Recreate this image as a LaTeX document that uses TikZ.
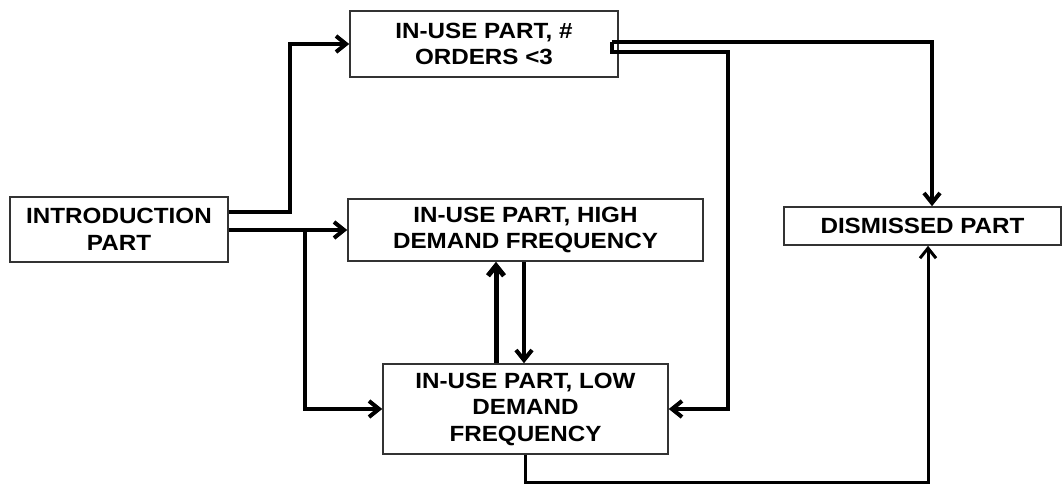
\documentclass[tikz,border=0pt]{standalone}
\usepackage{fontspec}
\setmainfont[FakeStretch=1.1]{Liberation Sans}
\usetikzlibrary{arrows.meta,calc}
\begin{document}
\begin{tikzpicture}[x=1pt,y=-1pt,
  box/.style={draw=black!80,line width=1.6pt,fill=white,inner sep=0pt,align=center,
    font=\fontsize{22}{26.5}\selectfont\bfseries},
  conn/.style={line width=4pt,-{Straight Barb[length=10pt,width=16pt]}},
]
\useasboundingbox (0,0) rectangle (1063,484);
\node[box,minimum width=268pt,minimum height=66pt] (top) at (484,44) {IN-USE PART, \#\\ORDERS <3};
\node[box,minimum width=218pt,minimum height=65pt] (intro) at (119,229.5) {INTRODUCTION\\PART};
\node[box,minimum width=355pt,minimum height=62pt] (high) at (525.5,230) {IN-USE PART, HIGH\\DEMAND FREQUENCY};
\node[box,minimum width=285pt,minimum height=90pt] (low) at (525.5,409) {IN-USE PART, LOW\\DEMAND\\FREQUENCY};
\node[box,minimum width=277pt,minimum height=38pt] (dism) at (922.5,226) {DISMISSED PART};
\coordinate (tp) at ($(top.east)+(-7,-2)$);
% introduction -> top
\draw[conn] (intro.east |- 0,212) -| (290,44) -- (top.west);
% introduction -> high
\draw[conn] (intro.east |- high.west) -- (high.west);
% branch -> low
\draw[conn] (305,228) |- (low.west);
% low <-> high
\draw[conn,line width=5pt] (low.north -| 496,0) -- (high.south -| 496,0);
\draw[conn] (high.south -| 524,0) -- (low.north -| 524,0);
% top -> dismissed
\draw[conn] (tp) -| (dism.north -| 932,0);
% top -> low
\draw[conn] (tp) |- (728,52) |- (low.east);
% low -> dismissed
\draw[conn,line width=3pt] (low.south) |- (928,482) -- (dism.south -| 928,0);
\end{tikzpicture}
\end{document}
